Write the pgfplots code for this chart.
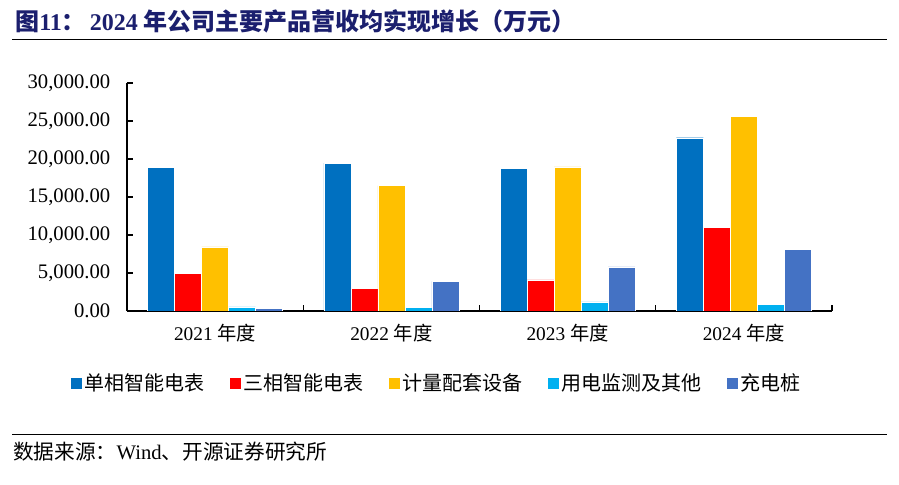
\documentclass[border=0pt]{standalone}
\usepackage{fontspec}
\setmainfont{Liberation Serif}
\newfontfamily\cjk{Noto Sans CJK SC}
\usepackage{pgfplots}
\pgfplotsset{compat=1.18}

\definecolor{c1}{HTML}{0070C0}
\definecolor{c2}{HTML}{FF0000}
\definecolor{c3}{HTML}{FFC000}
\definecolor{c4}{HTML}{00B0F0}
\definecolor{c5}{HTML}{4472C4}
\definecolor{titleblue}{HTML}{1B1F6E}

% 万元
\pgfplotstableread{
x  danxiang sanxiang jiliang yongdian chongdian
0  18900    4950     8450    530      350
1  19450    2950     16500   450      3900
2  18750    4100     18950   1200     5800
3  22800    11000    25650   850      8100
}\revenue

\begin{document}
\begin{tikzpicture}
\useasboundingbox (0,0) rectangle (674.25pt,363.75pt);

\begin{axis}[
  at={(95.25pt,130.5pt)}, anchor=south west,
  scale only axis,
  width=528.75pt, height=171pt,
  ybar=0pt, bar width=20.25pt,
  xmin=-0.5, xmax=3.5,
  ymin=0, ymax=30000,
  axis x line*=bottom, axis y line*=left,
  axis line style={-, line width=0.9pt},
  tick align=inside,
  major tick length=4.5pt,
  tick style={black, line width=0.9pt},
  xtick={-0.5,0.5,1.5,2.5,3.5},
  xticklabels={},
  extra x ticks={0,1,2,3},
  extra x tick labels={2021 {\cjk 年度},2022 {\cjk 年度},2023 {\cjk 年度},2024 {\cjk 年度}},
  extra x tick style={major tick length=0pt, tick style={draw=none}},
  ytick={0,5000,...,30000},
  scaled y ticks=false,
  /pgf/number format/assume math mode=true,
  yticklabel style={/pgf/number format/fixed, /pgf/number format/fixed zerofill,
    /pgf/number format/precision=2, /pgf/number format/1000 sep={,}, xshift=-9pt,
    font=\fontsize{15.5pt}{17pt}\selectfont},
  xticklabel style={yshift=-6pt, font=\fontsize{14.5pt}{16pt}\selectfont},
  legend columns=5,
  legend style={at={(0.44,-0.316)}, anchor=center, draw=none,
    font=\fontsize{15pt}{17pt}\selectfont\cjk,
    /tikz/every even column/.append style={column sep=17pt},
    inner sep=0pt},
  legend image code/.code={\fill[#1, draw=none] (0pt,-4.1pt) rectangle (8.2pt,4.1pt);},
  every axis plot/.append style={draw=white, line width=0.3pt},
]
\addplot[fill=c1] table[x=x, y=danxiang] {\revenue};
\addplot[fill=c2] table[x=x, y=sanxiang] {\revenue};
\addplot[fill=c3] table[x=x, y=jiliang] {\revenue};
\addplot[fill=c4] table[x=x, y=yongdian] {\revenue};
\addplot[fill=c5] table[x=x, y=chongdian] {\revenue};
\legend{单相智能电表,三相智能电表,计量配套设备,用电监测及其他,充电桩}
\end{axis}

\begin{scope}[x=0.75pt, y=-0.75pt, shift={(0pt,363.75pt)}]
  \node[anchor=west, inner sep=0pt, text=titleblue,
        font=\fontsize{18pt}{20pt}\selectfont\bfseries]
    at (15,21.5) {{\cjk 图}11{\cjk ：}\,2024 {\cjk 年公司主要产品营收均实现增长（万元）}};
  \draw[line width=1pt] (12,39.5) -- (887,39.5);
  \draw[line width=1pt] (12,434.5) -- (887,434.5);
  \node[anchor=west, inner sep=0pt, font=\fontsize{15.5pt}{17pt}\selectfont]
    at (13,452) {{\cjk 数据来源：}Wind{\cjk 、开源证券研究所}};
\end{scope}
\end{tikzpicture}
\end{document}
